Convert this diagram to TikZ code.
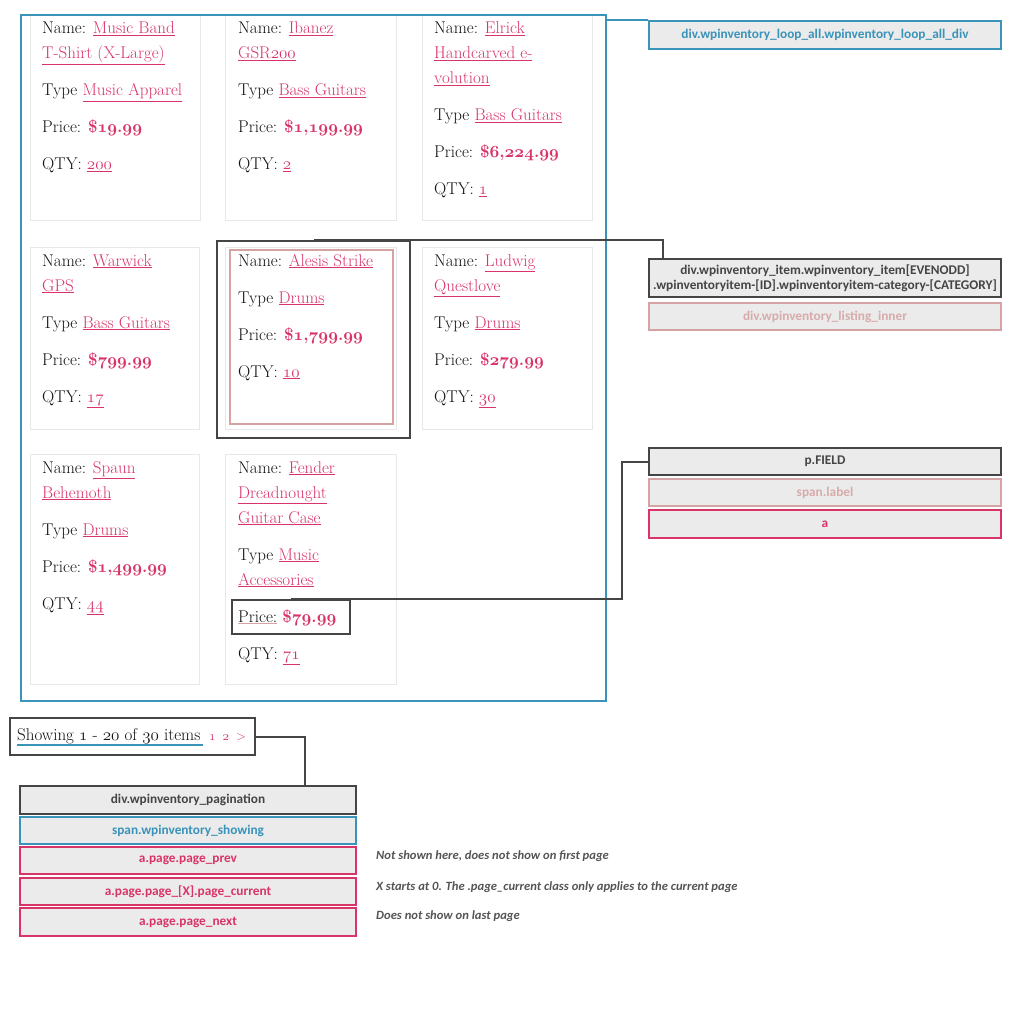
\documentclass[tikz,border=0pt]{standalone}
\usepackage{fontspec}
\usetikzlibrary{calc}
\newfontfamily\lblfont{Carlito}
\font\osr=cmmi12 at 17pt
\font\osb=cmmib10 at 17pt
\font\oss=cmmi10 at 13pt
\definecolor{bl}{HTML}{3A93B9}
\definecolor{pk}{HTML}{D93468}
\definecolor{pkl}{HTML}{D5A3A3}
\definecolor{pklt}{HTML}{D8ABAB}
\definecolor{dk}{HTML}{454545}
\definecolor{lg}{HTML}{EBEBEB}
\definecolor{cb}{HTML}{E8E8E8}
\definecolor{tx}{HTML}{111111}
\definecolor{nt}{HTML}{555555}
\newcommand\os[1]{{\osr #1}}
\newcommand\bo[1]{{\osb #1}}
\newcommand\lk[1]{\textcolor{pk}{\underline{#1}}}
\newcommand\pr[1]{\textcolor{pk}{\bfseries #1}}
\newcommand\cardtext[4]{\node[cardtxt] (#1) at (#2,#3) {\begin{minipage}[t]{165pt}#4\end{minipage}};}
\tikzset{
  cardtxt/.style={anchor=base west, inner sep=0, text=tx, font=\fontsize{17}{25}\selectfont},
  cardbox/.style={draw=cb, line width=1},
  boxnode/.style={rectangle, inner sep=0, anchor=north west, line width=2},
  lbl/.style={boxnode, fill=lg, minimum width=352, font=\lblfont\bfseries\fontsize{13.3}{15}\selectfont, align=center},
  plbl/.style={boxnode, fill=lg, minimum width=336, font=\lblfont\bfseries\fontsize{13.3}{15}\selectfont, align=center},
  conn/.style={draw=dk, line width=2},
  bconn/.style={draw=bl, line width=2},
  note/.style={anchor=west, inner sep=0, text=nt, font=\lblfont\bfseries\itshape\fontsize{12.6}{14}\selectfont}
}
\begin{document}
\begin{tikzpicture}[x=1pt, y=-1pt]
\useasboundingbox[fill=white] (0,0) rectangle (1024,1024);
% cards
\draw[cardbox] (30,15) rectangle (200,221);
\draw[cardbox] (225,15) rectangle (396,221);
\draw[cardbox] (422,15) rectangle (592,221);
\draw[cardbox] (30,247) rectangle (199,429);
\draw[cardbox] (225,247) rectangle (396,429);
\draw[cardbox] (422,247) rectangle (592,429);
\draw[cardbox] (30,454) rectangle (199,684);
\draw[cardbox] (225,454) rectangle (396,684);
% outer loop box
\node[boxnode, draw=bl, minimum width=585, minimum height=686] (loopbox) at (20,14) {};
% item highlight boxes
\node[boxnode, draw=dk, minimum width=193, minimum height=197] (itembox) at (216,240) {};
\node[boxnode, draw=pkl, minimum width=163, minimum height=174] (innerbox) at (229,249) {};
\node[boxnode, draw=dk, minimum width=118, minimum height=34] (pricebox) at (231,599) {};
% card texts
\cardtext{t11}{42}{34}{Name: \lk{Music Band}\\ \lk{T-Shirt (X-Large)}\\[12pt] Type \lk{Music Apparel}\\[12pt] Price: \pr{\$\bo{19}.\bo{99}}\\[12pt] QTY: \lk{\os{200}}}
\cardtext{t12}{238}{34}{Name: \lk{Ibanez}\\ \lk{GSR\os{200}}\\[12pt] Type \lk{Bass Guitars}\\[12pt] Price: \pr{\$\bo{1},\bo{199}.\bo{99}}\\[12pt] QTY: \lk{\os{2}}}
\cardtext{t13}{434}{34}{Name: \lk{Elrick}\\ \lk{Handcarved e-}\\ \lk{volution}\\[12pt] Type \lk{Bass Guitars}\\[12pt] Price: \pr{\$\bo{6},\bo{224}.\bo{99}}\\[12pt] QTY: \lk{\os{1}}}
\cardtext{t21}{42}{266}{Name: \lk{Warwick}\\ \lk{GPS}\\[12pt] Type \lk{Bass Guitars}\\[12pt] Price: \pr{\$\bo{799}.\bo{99}}\\[12pt] QTY: \lk{\os{17}}}
\cardtext{t22}{238}{266}{Name: \lk{Alesis Strike}\\[12pt] Type \lk{Drums}\\[12pt] Price: \pr{\$\bo{1},\bo{799}.\bo{99}}\\[12pt] QTY: \lk{\os{10}}}
\cardtext{t23}{434}{266}{Name: \lk{Ludwig}\\ \lk{Questlove}\\[12pt] Type \lk{Drums}\\[12pt] Price: \pr{\$\bo{279}.\bo{99}}\\[12pt] QTY: \lk{\os{30}}}
\cardtext{t31}{42}{473}{Name: \lk{Spaun}\\ \lk{Behemoth}\\[12pt] Type \lk{Drums}\\[12pt] Price: \pr{\$\bo{1},\bo{499}.\bo{99}}\\[12pt] QTY: \lk{\os{44}}}
\cardtext{t32}{238}{473}{Name: \lk{Fender}\\ \lk{Dreadnought}\\ \lk{Guitar Case}\\[12pt] Type \lk{Music}\\ \lk{Accessories}\\[12pt] \textcolor{pkl}{\underline{\textcolor{tx}{Price:}}} \pr{\$\bo{79}.\bo{99}}\\[12pt] QTY: \lk{\os{71}}}
% right labels
\node[lbl, draw=bl, text=bl, minimum height=28] (looplbl) at (648,20) {div.wpinventory\_loop\_all.wpinventory\_loop\_all\_div};
\node[lbl, draw=dk, text=dk, minimum height=38] (itemlbl) at (648,258) {div.wpinventory\_item.wpinventory\_item[EVENODD]\\.wpinventoryitem-[ID].wpinventoryitem-category-[CATEGORY]};
\node[lbl, draw=pkl, text=pklt, minimum height=27] (innerlbl) at (648,302) {div.wpinventory\_listing\_inner};
\node[lbl, draw=dk, text=dk, minimum height=27] (pfield) at (648,447) {p.FIELD};
\node[lbl, draw=pkl, text=pklt, minimum height=27] (spanlbl) at (648,478) {span.label};
\node[lbl, draw=pk, text=pk, minimum height=28] (albl) at (648,509) {a};
% connectors
\draw[bconn] (loopbox.north east |- looplbl.north west) -- (looplbl.north west);
\draw[conn] (itembox.north) -| ($(itemlbl.north west)+(15,0)$);
\draw[conn] (pricebox.north) -| ($(pfield.west)+(-26,0)$) -- (pfield.west);
% pagination
\node[boxnode, draw=dk, fill=white, minimum width=245, minimum height=37] (showbox) at (9,717) {};
\node[anchor=base west, inner sep=0, text=tx, font=\fontsize{17}{20}\selectfont] (showtxt) at (17,740) {Showing \os{1} - \os{20} of \os{30} items};
\node[anchor=base west, inner sep=0, text=pk, font=\fontsize{13}{16}\selectfont] (pagenums) at (209,740) {\oss 1\hspace{7pt}2\hspace{7pt}\rmfamily >};
\draw[draw=bl, line width=2] ($(showtxt.base west)+(0,5)$) -- ($(showtxt.base east)+(2,5)$);
\node[plbl, draw=dk, text=dk, minimum height=28] (pagbox) at (19,785) {div.wpinventory\_pagination};
\node[plbl, draw=bl, text=bl, minimum height=27] (showlbl) at (19,816) {span.wpinventory\_showing};
\node[plbl, draw=pk, text=pk, minimum height=27] (prevlbl) at (19,846) {a.page.page\_prev};
\node[plbl, draw=pk, text=pk, minimum height=27] (curlbl) at (19,877) {a.page.page\_[X].page\_current};
\node[plbl, draw=pk, text=pk, minimum height=28] (nextlbl) at (19,907) {a.page.page\_next};
\draw[conn] (showbox.east) -| ($(pagbox.north west)+(286,0)$);
% notes
\node[note] (n1) at (376,856) {Not shown here, does not show on first page};
\node[note] (n2) at (376,887) {X starts at 0. The .page\_current class only applies to the current page};
\node[note] (n3) at (376,916) {Does not show on last page};
\end{tikzpicture}
\end{document}
